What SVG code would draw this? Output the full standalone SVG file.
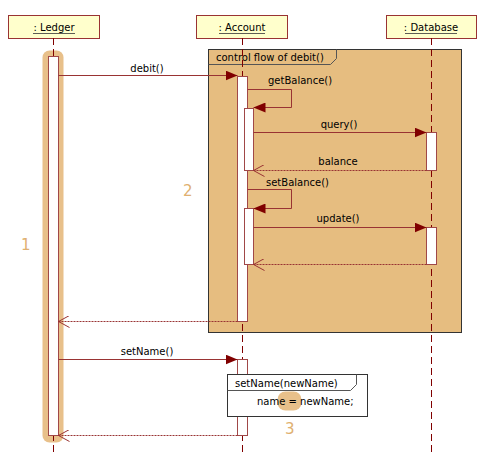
<svg xmlns="http://www.w3.org/2000/svg" width="481" height="455" viewBox="0 0 481 455">
<style>
text{font-family:"DejaVu Sans","Liberation Sans",sans-serif;font-size:10px;fill:#000}
.head{fill:#FFFFCC;stroke:#993333;stroke-width:1}
.life{stroke:#800000;stroke-width:1;stroke-dasharray:7,4;fill:none}
.act{fill:#fff;stroke:#A04848;stroke-width:1}
.msg{stroke:#993333;stroke-width:1;fill:none}
.ret{stroke:#993333;stroke-width:1;fill:none;stroke-dasharray:2,1}
.num{font-family:"DejaVu Sans",sans-serif;font-size:15px;fill:#E0B070}
.mid{text-anchor:middle}
</style>
<defs>
<marker id="fill" markerWidth="12" markerHeight="10" refX="12" refY="5" orient="auto" markerUnits="userSpaceOnUse">
<path d="M0,0 L12,5 L0,10 Z" fill="#800000"/>
</marker>
<marker id="open" markerWidth="12" markerHeight="12" refX="11" refY="6" orient="auto" markerUnits="userSpaceOnUse">
<path d="M0,0 L11,6 L0,12" fill="none" stroke="#993333" stroke-width="1"/>
</marker>
</defs>
<rect width="481" height="455" fill="#fff"/>
<g id="frame">
<rect x="208.5" y="49.5" width="253" height="283" fill="#E6BD80" stroke="#333" stroke-width="1"/>
<path d="M208.5,64.5 H330.5 L336.5,58.5 V49.5" fill="none" stroke="#555" stroke-width="1"/>
<text x="216" y="61">control flow of debit()</text>
</g>
<g id="ledger">
<rect x="42.5" y="50.5" width="21" height="392" rx="7" fill="#E8C08A"/>
<rect class="head" x="8.5" y="15.5" width="91" height="23"/>
<text class="mid" x="54" y="31">: Ledger</text>
<line x1="33" y1="33.5" x2="75" y2="33.5" stroke="#333" stroke-width="0.8"/>
<line class="life" x1="53.5" y1="38" x2="53.5" y2="455"/>
<rect class="act" x="48.5" y="56.5" width="10" height="379"/>
</g>
<g id="account">
<rect class="head" x="196.5" y="15.5" width="91" height="23"/>
<text class="mid" x="242" y="31">: Account</text>
<line x1="219" y1="33.5" x2="265" y2="33.5" stroke="#333" stroke-width="0.8"/>
<line class="life" x1="242.5" y1="38" x2="242.5" y2="455"/>
<rect class="act" x="237.5" y="76.5" width="10" height="245"/>
<rect class="act" x="244.5" y="108.5" width="9" height="62"/>
<rect class="act" x="244.5" y="208.5" width="9" height="56"/>
<rect class="act" x="237.5" y="359.5" width="10" height="76"/>
</g>
<g id="database">
<rect class="head" x="386.5" y="15.5" width="90" height="23"/>
<text class="mid" x="431" y="31">: Database</text>
<line x1="405" y1="33.5" x2="457" y2="33.5" stroke="#333" stroke-width="0.8"/>
<line class="life" x1="431.5" y1="38" x2="431.5" y2="455"/>
<rect class="act" x="426.5" y="132.5" width="10" height="38"/>
<rect class="act" x="426.5" y="227.5" width="10" height="37"/>
</g>
<g id="connectors">
<line class="msg" x1="58.5" y1="75.5" x2="237.5" y2="75.5" marker-end="url(#fill)"/>
<text class="mid" x="147" y="72">debit()</text>
<polyline class="msg" points="247.5,89.5 291.5,89.5 291.5,107.5 253.5,107.5" marker-end="url(#fill)"/>
<text x="268" y="84">getBalance()</text>
<line class="msg" x1="253.5" y1="132.5" x2="426.5" y2="132.5" marker-end="url(#fill)"/>
<text class="mid" x="339" y="128">query()</text>
<line class="ret" x1="426.5" y1="170.5" x2="253.5" y2="170.5" marker-end="url(#open)"/>
<text class="mid" x="338" y="165">balance</text>
<polyline class="msg" points="247.5,189.5 291.5,189.5 291.5,208.5 253.5,208.5" marker-end="url(#fill)"/>
<text x="266" y="186">setBalance()</text>
<line class="msg" x1="253.5" y1="227.5" x2="426.5" y2="227.5" marker-end="url(#fill)"/>
<text class="mid" x="338" y="222">update()</text>
<line class="ret" x1="426.5" y1="264.5" x2="253.5" y2="264.5" marker-end="url(#open)"/>
<line class="ret" x1="237.5" y1="321.5" x2="58.5" y2="321.5" marker-end="url(#open)"/>
<line class="msg" x1="58.5" y1="359.5" x2="237.5" y2="359.5" marker-end="url(#fill)"/>
<text class="mid" x="147" y="355">setName()</text>
<line class="ret" x1="237.5" y1="435.5" x2="58.5" y2="435.5" marker-end="url(#open)"/>
</g>
<g id="note">
<rect x="227.5" y="374.5" width="140" height="42" fill="#fff" stroke="#333" stroke-width="1"/>
<path d="M227.5,390.5 H350.5 L356.5,384.5 V374.5" fill="none" stroke="#555" stroke-width="1"/>
<text x="235" y="387">setName(newName)</text>
<rect x="277.5" y="391.5" width="24" height="19" rx="8" fill="#E8C08A"/>
<text x="257" y="405">name = newName;</text>
</g>
<text class="num" x="21" y="250">1</text>
<text class="num" x="183" y="196">2</text>
<text class="num" x="285" y="434">3</text>
</svg>
